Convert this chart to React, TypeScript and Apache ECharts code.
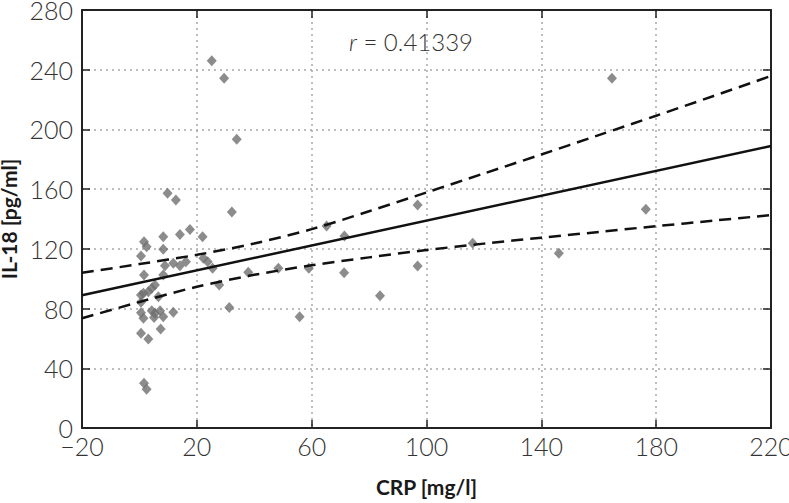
import React, { useEffect, useRef } from "react";
import * as echarts from "echarts";

const crpValues = [
  33.9, 9.8, 12.7, 32.2, 17.6, 14.1, 8.3, 22.0, 1.6, 2.5, 8.3, 0.55, 22.3, 23.8, 8.9, 11.8, 14.1, 16.2, 25.5, 1.6,
  8.3, 37.9, 5.4, 4.3, 3.1, 1.4, 0.55, 6.6, 27.8, 0.55, 0.55, 1.4, 4.3, 5.4, 7.2, 5.1, 8.3, 11.8, 31.3, 7.4,
  0.55, 3.1, 1.6, 2.5, 25.2, 29.5, 48.4, 59.0, 55.8, 65.2, 71.4, 71.3, 83.8, 96.9, 96.9, 116.1, 146.1, 164.6, 176.4,
];
const il18Values = [
  193.4, 157.2, 152.7, 144.7, 133, 129.7, 128.1, 128.1, 124.8, 121.4, 119.7, 115.2, 113.7, 111.4, 108.7, 110.3, 108.7, 111.4, 107, 102.5,
  102.5, 104.3, 95.8, 93.6, 91.3, 90.2, 89.1, 87.9, 95.8, 84.2, 77.2, 73.5, 78.6, 76.8, 78.6, 74.1, 74.5, 77.5, 80.8, 66.3,
  63.4, 59.6, 29.9, 25.9, 246, 234.2, 107, 107, 74.5, 135.3, 128.6, 104, 88.6, 149.4, 108.5, 123.7, 117, 234.2, 146.5,
];

const fitX = [-20, 220];
const fitY = [88.9, 188.9];

const bandX = [-20, 0, 20, 40, 60, 80, 100, 120, 140, 160, 180, 200, 220];
const upperBand = [104, 109.8, 116, 123.6, 133.2, 145.2, 157.8, 170.5, 183.2, 196.2, 209.2, 222.4, 235.8];
const lowerBand = [73.5, 84.4, 94.6, 102.6, 109.0, 114.3, 119.2, 123.5, 127.5, 131.3, 135.2, 138.9, 142.6];

const xTicks = { min: -20, max: 220, interval: 40 };
const yTicks = { min: 0, max: 280, interval: 40 };
const rText = "0.41339";

const FONT = "Lato, 'Open Sans', sans-serif";

export default function App() {
  const ref = useRef<HTMLDivElement>(null);
  useEffect(() => {
    if (!ref.current) return;
    const chart = echarts.init(ref.current, null, { renderer: "svg" });
    const axisLine = { show: true, onZero: false, lineStyle: { color: "#222", width: 2 } };
    const tick = { show: true, inside: true, length: 8, lineStyle: { color: "#222", width: 1.5 } };
    const split = { show: true, lineStyle: { color: "#a8a8a8", width: 1.5, type: [2, 4] } };
    const labelStyle = { color: "#333", fontSize: 25, fontFamily: FONT, fontWeight: 300 };
    const nameStyle = { color: "#1a1a1a", fontSize: 21, fontFamily: FONT, fontWeight: "bold" };
    const zip = (xs: number[], ys: number[]) => xs.map((x, i) => [x, ys[i]]);
    chart.setOption({
      animation: false,
      backgroundColor: "#fff",
      grid: { left: 82, right: 18, top: 10, bottom: 75, containLabel: false, outerBoundsMode: "none" },
      xAxis: [
        {
          type: "value",
          position: "bottom",
          ...xTicks,
          axisLine,
          axisTick: tick,
          splitLine: split,
          axisLabel: { ...labelStyle, margin: 5, formatter: (v: number) => (v < 0 ? "\u2212" + Math.abs(v) : String(v)) },
          name: "CRP [mg/l]",
          nameLocation: "middle",
          nameGap: 48,
          nameTextStyle: nameStyle,
        },
        {
          type: "value",
          position: "top",
          ...xTicks,
          axisLine,
          axisTick: tick,
          splitLine: { show: false },
          axisLabel: { show: false },
        },
      ],
      yAxis: [
        {
          type: "value",
          position: "left",
          ...yTicks,
          axisLine,
          axisTick: tick,
          splitLine: split,
          axisLabel: { ...labelStyle, margin: 9 },
          name: "IL-18 [pg/ml]",
          nameLocation: "middle",
          nameGap: 55,
          nameTextStyle: nameStyle,
        },
        {
          type: "value",
          position: "right",
          ...yTicks,
          axisLine,
          axisTick: tick,
          splitLine: { show: false },
          axisLabel: { show: false },
        },
      ],
      series: [
        {
          type: "scatter",
          data: zip(crpValues, il18Values),
          symbol: "diamond",
          symbolSize: [10, 11],
          itemStyle: { color: "#6f6f6f" },
          z: 2,
        },
        {
          type: "line",
          data: zip(fitX, fitY),
          showSymbol: false,
          lineStyle: { color: "#111", width: 2.5 },
          z: 3,
        },
        {
          type: "line",
          data: zip(bandX, upperBand),
          smooth: 0.3,
          showSymbol: false,
          lineStyle: { color: "#111", width: 2.5, type: [12, 7] },
          z: 3,
        },
        {
          type: "line",
          data: zip(bandX, lowerBand),
          smooth: 0.3,
          showSymbol: false,
          lineStyle: { color: "#111", width: 2.5, type: [12, 7] },
          z: 3,
        },
      ],
      graphic: [
        {
          type: "text",
          x: 411,
          y: 41,
          style: {
            text: "{i|r} = " + rText,
            align: "center",
            verticalAlign: "middle",
            fill: "#333",
            font: `300 24px ${FONT}`,
            rich: {
              i: { fontStyle: "italic", fontWeight: 300, fontSize: 24, fontFamily: FONT, fill: "#333" },
            },
          },
        },
      ],
    });
    return () => chart.dispose();
  }, []);
  return <div ref={ref} style={{ position: "fixed", left: 0, top: 0, width: 789, height: 503, background: "#fff" }} />;
}
